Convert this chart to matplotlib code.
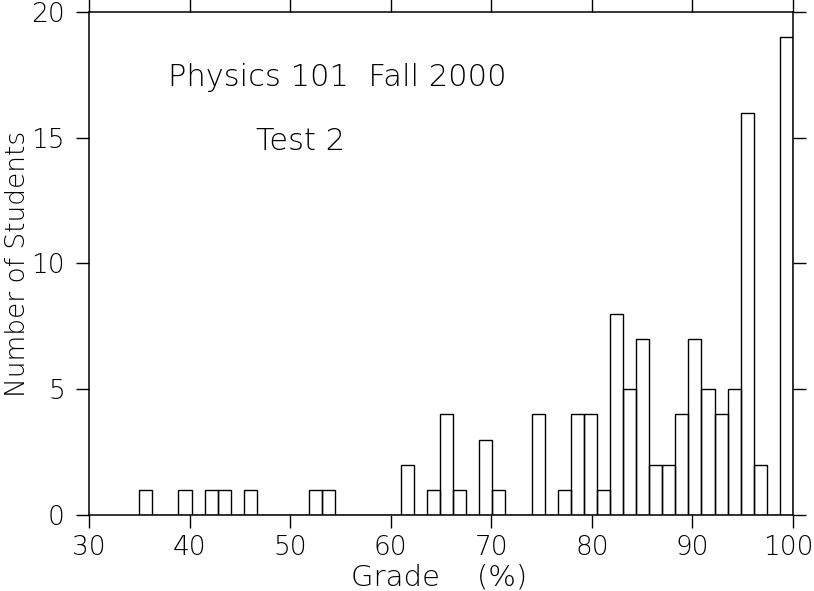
import numpy as np
import matplotlib
matplotlib.use("Agg")
import matplotlib.pyplot as plt
from matplotlib.transforms import ScaledTranslation

# histogram of test grades, bins 1.3 wide starting at 35
bin_start = 35.0
bin_width = 1.3
counts = [1, 0, 0, 1, 0, 1, 1, 0, 1, 0,
          0, 0, 0, 1, 1, 0, 0, 0, 0, 0,
          2, 0, 1, 4, 1, 0, 3, 1, 0, 0,
          4, 0, 1, 4, 4, 1, 8, 5, 7, 2,
          2, 4, 7, 5, 4, 5, 16, 2, 0, 19]
x_ticks = [30, 40, 50, 60, 70, 80, 90, 100]
y_ticks = [0, 5, 10, 15, 20]

plt.rcParams['font.family'] = ['DejaVu Sans']
plt.rcParams['font.weight'] = 'light'
plt.rcParams['axes.labelweight'] = 'light'

fig = plt.figure(figsize=(8.14, 5.91), dpi=100)
ax = fig.add_axes([0.1093, 0.1286, 0.8649, 0.8511])

edges = bin_start + bin_width * np.arange(len(counts))
ax.bar(edges, counts, width=bin_width, align='edge', fill=False,
       edgecolor='black', linewidth=1.0)

ax.set_xlim(30, 100)
ax.set_ylim(0, 20)
ax.set_xticks(x_ticks)
ax.set_yticks(y_ticks)
for s in ax.spines.values():
    s.set_linewidth(1.1)
ax.tick_params(direction='out', length=9.4, width=1.0, labelsize=19,
               top=True, right=True, pad=5)
ax.tick_params(axis='y', pad=8)

# nudge "100" left a bit so it stays inside the figure
last = ax.get_xticklabels()[-1]
last.set_transform(last.get_transform() +
                   ScaledTranslation(-0.05, 0, fig.dpi_scale_trans))

ax.set_xlabel('Grade    (%)', fontsize=21)
ax.set_ylabel('Number of Students', fontsize=19)
ax.xaxis.set_label_coords(0.497, -0.097)
ax.yaxis.set_label_coords(-0.084, 0.5)

# the two notes, placed by pixel measured from the top of the figure
ax.text(337, 591 - 78, 'Physics 101  Fall 2000', transform=None,
        fontsize=22, ha='center', va='center')
ax.text(300, 591 - 141, 'Test 2', transform=None,
        fontsize=22, ha='center', va='center')

fig.savefig('out.png', dpi=100)
